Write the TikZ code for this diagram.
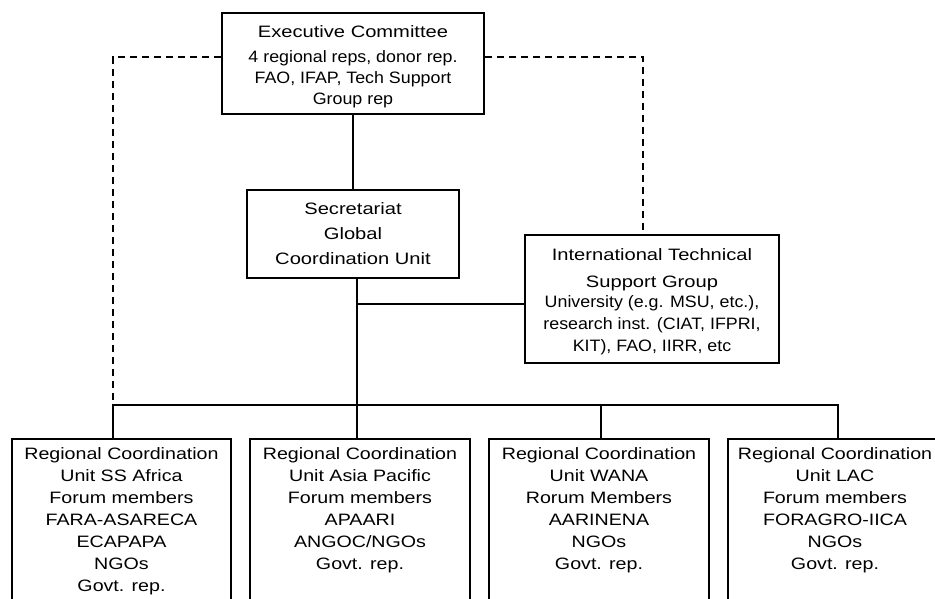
\documentclass[tikz,border=0pt]{standalone}
\usepackage{fontspec}
\setmainfont{Liberation Sans}[FakeStretch=1.22]
\newfontfamily\smallf{Liberation Sans}[FakeStretch=1.08]
\newfontfamily\regf{Liberation Sans}[FakeStretch=1.19]
\begin{document}
\begin{tikzpicture}[x=1pt,y=-1pt,
  box/.style={draw, line width=1.8pt, inner sep=0pt, align=center},
  conn/.style={line width=1.4pt},
  bus/.style={line width=2.5pt},
  dashline/.style={line width=1.4pt, dash pattern=on 7pt off 5pt},
  btext/.style={inner sep=0pt, align=center},
  rtext/.style={inner sep=0pt, align=center, font=\regf\fontsize{16.5}{22}\selectfont}
]
\useasboundingbox (0,0) rectangle (935,599);
\fill[white] (0,0) rectangle (935,599);
\clip (0,0) rectangle (935,599);

% top boxes
\node[box, minimum width=262pt, minimum height=101pt] (exec) at (353,63.5) {};
\node[btext, font=\fontsize{16.5}{21}\selectfont] (exect) at (353,66.5)
  {Executive Committee\\[4pt]{\smallf 4 regional reps, donor rep.}\\{\smallf FAO, IFAP, Tech Support}\\{\smallf Group rep}};
\node[box, minimum width=212pt, minimum height=88pt, font=\fontsize{16.5}{25}\selectfont] (sec) at (353,234)
  {Secretariat\\Global\\Coordination Unit};
\node[box, minimum width=254pt, minimum height=128pt] (itsg) at (652,299) {};
\node[btext, font=\fontsize{16.5}{22}\selectfont] (itsgt) at (652,301.5)
  {International Technical\\[5pt]Support Group\\[-2pt]{\smallf University (e.g. MSU, etc.),}\\{\smallf research inst. (CIAT, IFPRI,}\\{\smallf KIT), FAO, IIRR, etc}};

% regional boxes
\node[box, minimum width=219pt, minimum height=200pt] (r1) at (121.5,539) {};
\node[box, minimum width=220pt, minimum height=200pt] (r2) at (360,539) {};
\node[box, minimum width=220pt, minimum height=200pt] (r3) at (599,539) {};
\node[box, minimum width=220pt, minimum height=200pt] (r4) at (838,539) {};

\node[rtext, anchor=north] (t1) at ([yshift=-9pt]r1.north)
  {Regional Coordination\\Unit SS Africa\\Forum members\\FARA-ASARECA\\ECAPAPA\\NGOs\\Govt. rep.};
\node[rtext, anchor=north] (t2) at ([yshift=-9pt]r2.north)
  {Regional Coordination\\Unit Asia Pacific\\Forum members\\APAARI\\ANGOC/NGOs\\Govt. rep.};
\node[rtext, anchor=north] (t3) at ([yshift=-9pt]r3.north)
  {Regional Coordination\\Unit WANA\\Rorum Members\\AARINENA\\NGOs\\Govt. rep.};
\node[rtext, anchor=north] (t4) at ([yshift=-9pt, xshift=-3pt]r4.north)
  {Regional Coordination\\Unit LAC\\Forum members\\FORAGRO-IICA\\NGOs\\Govt. rep.};

% junction coordinates
\coordinate (b1) at (113,405);
\coordinate (b2) at (357,405);
\coordinate (b3) at (601,405);
\coordinate (b4) at (838,405);
\coordinate (j) at (357,304);
\coordinate (dl) at (113,57);
\coordinate (dr) at (643,57);

% connectors
\draw[conn] (exec) -- (sec);
\draw[conn] (sec.south -| b2) -- (b2);
\draw[bus] (j) -- (j -| itsg.west);
\draw[bus] ([xshift=-0.7pt]b1) -- ([xshift=0.7pt]b4);
\draw[conn] (b1) -- (b1 |- r1.north);
\draw[conn] (b2) -- (b2 |- r2.north);
\draw[conn] (b3) -- (b3 |- r3.north);
\draw[conn] (b4) -- (b4 |- r4.north);

% dashed links
\draw[dashline] (exec.west |- dl) -- (dl) -- (b1);
\draw[dashline] (exec.east |- dr) -- (dr) -- (dr |- itsg.north);
\end{tikzpicture}
\end{document}
